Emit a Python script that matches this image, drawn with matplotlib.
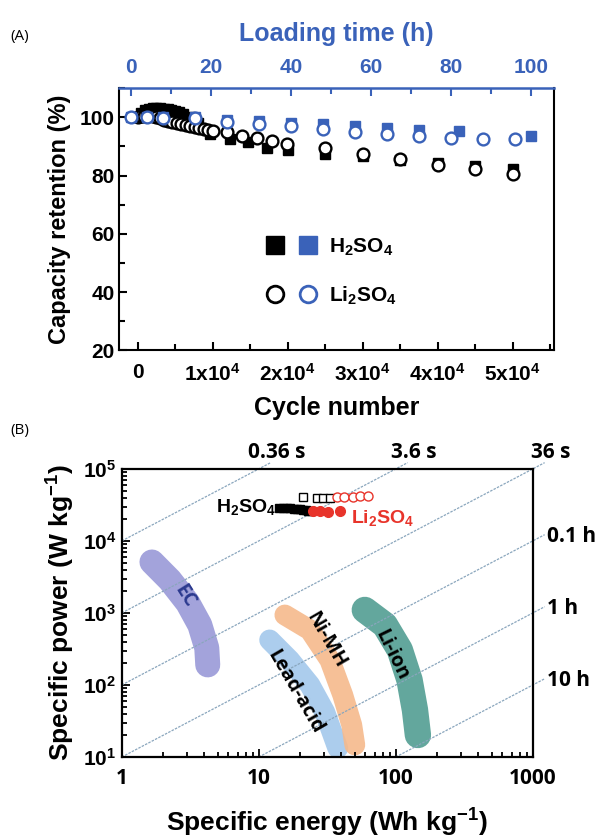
import numpy as np
import matplotlib
matplotlib.use("Agg")
import matplotlib.pyplot as plt
from matplotlib.lines import Line2D
from matplotlib.legend_handler import HandlerTuple
from matplotlib.ticker import MultipleLocator, FuncFormatter, LogLocator, NullFormatter

plt.rcParams['font.family'] = ['Liberation Sans', 'DejaVu Sans']
plt.rcParams['font.weight'] = 'bold'
plt.rcParams['axes.labelweight'] = 'bold'
plt.rcParams['mathtext.fontset'] = 'custom'
plt.rcParams['mathtext.rm'] = 'Liberation Sans:bold'
plt.rcParams['mathtext.bf'] = 'Liberation Sans:bold'
plt.rcParams['mathtext.it'] = 'Liberation Sans:bold:italic'

BLUE = '#3a62b9'
RED = '#e8342b'

# ---- (A) cycling stability ----
# black: vs cycle number
h2so4_cycles = [0, 500, 1000, 1500, 2000, 2500, 3000, 3500, 4000, 4500, 5000, 5500,
                6000, 7000, 8000, 9600, 12300, 14700, 17200, 20000, 25000, 30000,
                35000, 40000, 45000, 50000]
h2so4_ret = [100, 101.5, 102.5, 103, 103.2, 103.3, 103.2, 103, 102.8, 102.5, 102.2, 101.8,
             101.3, 100, 98.2, 94.2, 92.5, 91.4, 89.6, 88.8, 87.3, 86.7,
             85.3, 84.4, 83.3, 82.1]
li2so4_cycles = [0, 400, 800, 1200, 1600, 2000, 2500, 3000, 3500, 4000, 4600, 5200, 5800,
                 6400, 7000, 7600, 8200, 8800, 9400, 10000, 11900, 13900, 15900,
                 17900, 19900, 25000, 30000, 35000, 40000, 45000, 50000]
li2so4_ret = [100, 100.3, 100.6, 100.8, 100.8, 100.6, 100.2, 99.7, 99.2, 98.8, 98.5, 98.2, 97.8,
              97.5, 97.1, 96.7, 96.3, 95.9, 95.6, 95.3, 94.9, 93.5, 92.8,
              91.8, 90.8, 89.4, 87.3, 85.6, 83.5, 82.1, 80.4]

# blue: vs loading time
h2so4_hours = [0, 4, 8, 16, 24, 32, 40, 48, 56, 64, 72, 82, 100]
h2so4_hold = [100, 100, 100, 100, 99.2, 98.8, 98.2, 97.6, 97.0, 96.5, 95.8, 95.3, 93.5]
li2so4_hours = [0, 4, 8, 16, 24, 32, 40, 48, 56, 64, 72, 80, 88, 96]
li2so4_hold = [100, 100, 99.8, 99.8, 98.4, 97.7, 97.0, 95.9, 94.9, 94.2, 93.5, 93.0, 92.6, 92.4]

cycle_ticks = [0, 10000, 20000, 30000, 40000, 50000]
hour_ticks = [0, 20, 40, 60, 80, 100]
retention_ticks = [20, 40, 60, 80, 100]

# ---- (B) Ragone plot ----
h2so4_open_E = [21, 26.5, 29.3, 33]
h2so4_open_P = [4.1e4, 4.0e4, 4.0e4, 4.0e4]
li2so4_open_E = [37, 42, 48.5, 54.6, 62.5]
li2so4_open_P = [4.1e4, 4.1e4, 4.1e4, 4.2e4, 4.2e4]
h2so4_fill_E = [14, 15, 16, 17, 18, 19, 20, 21, 22, 23, 24]
h2so4_fill_P = [2.9e4, 2.88e4, 2.85e4, 2.82e4, 2.8e4, 2.77e4, 2.74e4, 2.7e4, 2.67e4, 2.63e4, 2.6e4]
li2so4_fill_E = [24.8, 27.9, 31.9, 39]
li2so4_fill_P = [2.6e4, 2.6e4, 2.55e4, 2.6e4]

# device regions, centre line through each band
ec_E = [1.66, 2.24, 3.03, 3.71, 4.17, 4.24]
ec_P = [5100, 2870, 1377, 681, 327, 190]
lead_E = [12.0, 16.8, 23.6, 30.3, 35.9, 37.7]
lead_P = [422, 222, 100, 42, 17.2, 13.3]
nimh_E = [15.5, 23.6, 33.0, 41.0, 47.7, 50.2]
nimh_P = [937, 581, 222, 72.6, 27.8, 14.7]
liion_E = [59.4, 83.2, 107, 126, 138, 145]
liion_P = [1101, 681, 306, 117, 45, 20.2]

discharge_s = [0.36, 3.6, 36, 360, 3600, 36000]
discharge_labels = ['0.36 s', '3.6 s', '36 s', '0.1 h', '1 h', '10 h']

fig = plt.figure(figsize=(6, 8.4), dpi=100)

axA = fig.add_axes([0.198, 0.583, 0.725, 0.312])
axA.plot(h2so4_cycles, h2so4_ret, 's', color='black', ms=7, zorder=2)
axA.plot(li2so4_cycles, li2so4_ret, 'o', mfc='white', mec='black', mew=1.7, ms=8.5, zorder=3)
axA.set_xlim(-2500, 55500)
axA.set_ylim(20, 110)
axA.set_xticks(cycle_ticks)
axA.xaxis.set_minor_locator(MultipleLocator(5000))
axA.set_yticks(retention_ticks)
axA.yaxis.set_minor_locator(MultipleLocator(10))
axA.xaxis.set_major_formatter(FuncFormatter(
    lambda v, p: '0' if v == 0 else '%dx10$^4$' % round(v / 1e4)))
axA.tick_params(which='both', direction='in', width=1.5, labelsize=15)
axA.tick_params(which='major', length=6)
axA.tick_params(which='minor', length=4)
axA.tick_params(axis='x', pad=9)
axA.tick_params(axis='y', pad=3)
axA.tick_params(top=False, right=False)
for s in axA.spines.values():
    s.set_linewidth(1.5)
axA.spines['top'].set_visible(False)
axA.set_xlabel('Cycle number', fontsize=18, labelpad=8)
axA.set_ylabel('Capacity retention (%)', fontsize=17, labelpad=6)

axT = axA.twiny()
axT.plot(h2so4_hours, h2so4_hold, 's', color=BLUE, ms=7, zorder=2)
axT.plot(li2so4_hours, li2so4_hold, 'o', mfc='white', mec=BLUE, mew=1.7, ms=8.5, zorder=3)
axT.set_xlim(-3, 105.75)
axT.set_xticks(hour_ticks)
axT.xaxis.set_minor_locator(MultipleLocator(10))
axT.tick_params(axis='x', which='both', direction='in', colors=BLUE, width=1.5,
                labelsize=15, pad=8)
axT.tick_params(axis='x', which='major', length=6)
axT.tick_params(axis='x', which='minor', length=4)
for side in ['left', 'right', 'bottom']:
    axT.spines[side].set_visible(False)
axT.spines['top'].set_color(BLUE)
axT.spines['top'].set_linewidth(1.8)
axT.set_xlabel('Loading time (h)', color=BLUE, fontsize=18, labelpad=12)

leg_handles = [
    (Line2D([], [], marker='s', ls='none', color='black', ms=13),
     Line2D([], [], marker='s', ls='none', color=BLUE, ms=13)),
    (Line2D([], [], marker='o', ls='none', mfc='white', mec='black', mew=2, ms=12),
     Line2D([], [], marker='o', ls='none', mfc='white', mec=BLUE, mew=2, ms=12)),
]
axA.legend(leg_handles, ['H$_2$SO$_4$', 'Li$_2$SO$_4$'],
           handler_map={tuple: HandlerTuple(ndivide=None, pad=0.8)},
           loc='center', bbox_to_anchor=(0.49, 0.3), frameon=False,
           fontsize=15, handlelength=2.4, handletextpad=0.6, labelspacing=1.3)

fig.text(0.017, 0.952, '(A)', fontsize=11, fontweight='normal', family='Open Sans')
fig.text(0.017, 0.483, '(B)', fontsize=11, fontweight='normal', family='Open Sans')

# ---- panel B ----
axB = fig.add_axes([0.203, 0.0988, 0.685, 0.343])
axB.set_xscale('log')
axB.set_yscale('log')
axB.set_xlim(1, 1000)
axB.set_ylim(10, 1e5)

bands = [
    (ec_E, ec_P, '#9999d8', 18),
    (lead_E, lead_P, '#a3c8ec', 15),
    (nimh_E, nimh_P, '#f5b98c', 15),
    (liion_E, liion_P, '#529e92', 19),
]
for E, P, col, lw in bands:
    axB.plot(E, P, color=col, lw=lw, solid_capstyle='round',
             solid_joinstyle='round', alpha=0.9, zorder=1)

axB.text(2.9, 1700, 'EC', color='#2c3a8f', fontsize=14, rotation=-58,
         ha='center', va='center', family='Open Sans', fontweight='bold', zorder=4)
axB.text(18.5, 80, 'Lead-acid', color='black', fontsize=14, rotation=-60,
         ha='center', va='center', family='Open Sans', fontweight='bold', zorder=4)
axB.text(31, 420, 'Ni-MH', color='black', fontsize=14, rotation=-60,
         ha='center', va='center', family='Open Sans', fontweight='bold', zorder=4)
axB.text(93, 260, 'Li-ion', color='black', fontsize=14, rotation=-64,
         ha='center', va='center', family='Open Sans', fontweight='bold', zorder=4)

# constant discharge-time lines P = 3600 E / t
for t, lab in zip(discharge_s, discharge_labels):
    k = 3600.0 / t
    e0 = max(1.0, 10.0 / k)
    e1 = min(1000.0, 1e5 / k)
    e = np.array([e0, e1 * 1.22])
    axB.plot(e, k * e, color='#8aa6bd', lw=0.9, ls=(0, (2, 1)), clip_on=False, zorder=2)
    if 1e5 / k <= 1000:
        axB.annotate(lab, (e1, 1e5), xytext=(13, 12), textcoords='offset points',
                     ha='center', va='center', fontsize=15, family='Open Sans',
                     fontweight='bold', annotation_clip=False)
    else:
        axB.annotate(lab, (1000, k * 1000), xytext=(10, 3), textcoords='offset points',
                     ha='left', va='center', fontsize=15, family='Open Sans',
                     fontweight='bold', annotation_clip=False)

axB.plot(h2so4_fill_E, h2so4_fill_P, 's', color='black', ms=6, zorder=5)
axB.plot(li2so4_fill_E, li2so4_fill_P, 'o', color=RED, ms=7, zorder=5)
axB.plot(h2so4_open_E, h2so4_open_P, 's', mfc='white', mec='black', mew=1.0, ms=5.5, zorder=5)
axB.plot(li2so4_open_E, li2so4_open_P, 'o', mfc='white', mec=RED, mew=1.0, ms=6.5, zorder=5)
axB.text(13.5, 2.97e4, 'H$_2$SO$_4$', ha='right', va='center', fontsize=14, zorder=6)
axB.text(47, 2.05e4, 'Li$_2$SO$_4$', ha='left', va='center', fontsize=14, color=RED, zorder=6)

axB.set_xticks([1, 10, 100, 1000])
axB.set_xticklabels(['1', '10', '100', '1000'], family='Open Sans', fontweight='bold')
axB.xaxis.set_minor_locator(LogLocator(base=10, subs=np.arange(2, 10)))
axB.xaxis.set_minor_formatter(NullFormatter())
axB.yaxis.set_major_locator(LogLocator(base=10, numticks=10))
axB.yaxis.set_minor_locator(LogLocator(base=10, subs=np.arange(2, 10), numticks=10))
axB.yaxis.set_minor_formatter(NullFormatter())
axB.tick_params(which='both', direction='in', width=1.3, labelsize=15, top=False, right=False)
axB.tick_params(which='major', length=6)
axB.tick_params(which='minor', length=3.5)
axB.tick_params(axis='x', pad=8)
axB.tick_params(axis='y', pad=4)
for s in axB.spines.values():
    s.set_linewidth(1.6)
axB.set_xlabel('Specific energy (Wh kg$^{-1}$)', fontsize=19, labelpad=13)
axB.set_ylabel('Specific power (W kg$^{-1}$)', fontsize=19, labelpad=4)

fig.savefig('out.png', dpi=100, facecolor='white')
